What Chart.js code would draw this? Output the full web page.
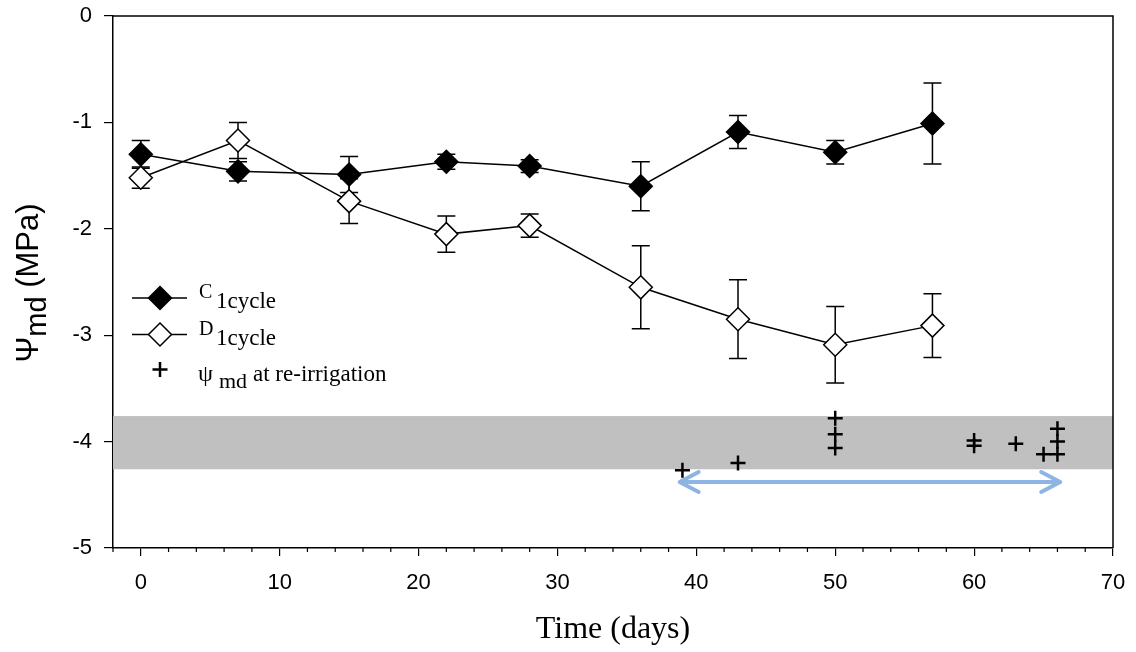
<!DOCTYPE html>
<html>
<head>
<meta charset="utf-8">
<script src="https://cdn.jsdelivr.net/npm/chart.js@4.4.0/dist/chart.umd.min.js"></script>
<style>
  html, body { margin: 0; padding: 0; background: #ffffff; }
  #myChart { display: block; }
</style>
</head>
<body>
<canvas id="myChart" width="1136" height="652"></canvas>
<script>
// sampling days and mean midday water potential (MPa) with error bars
const days = [0, 7, 15, 22, 28, 36, 43, 50, 57];
const controlMean = [-1.30, -1.46, -1.49, -1.37, -1.41, -1.60, -1.09, -1.28, -1.01];
const controlErr = [0.13, 0.09, 0.17, 0.07, 0.06, 0.23, 0.155, 0.11, 0.38];
const droughtMean = [-1.52, -1.17, -1.74, -2.05, -1.97, -2.55, -2.85, -3.09, -2.91];
const droughtErr = [0.10, 0.17, 0.21, 0.17, 0.11, 0.39, 0.37, 0.36, 0.30];

// psi_md at re-irrigation
const reirrDays = [39, 43, 50, 50, 50, 60, 60, 63, 65, 66, 66, 66];
const reirrPsi = [-4.27, -4.20, -3.78, -3.93, -4.06, -3.99, -4.04, -4.02, -4.12, -3.88, -4.00, -4.12];

// grey band and the re-irrigation period arrow
const bandRange = [-4.26, -3.76];
const arrowDays = [38.8, 66.2];
const arrowPsi = -4.38;

const xTicks = [0, 10, 20, 30, 40, 50, 60, 70];
const yTicks = [0, -1, -2, -3, -4, -5];

const canvas = document.getElementById('myChart');
const context = canvas.getContext('2d');
const black = '#000000';
const bandColor = '#c0c0c0';
const arrowColor = '#8db4e3';
const serif = '"Liberation Serif", "Times New Roman", serif';
const sans = '"Liberation Sans", Arial, sans-serif';

function toPoints(xs, ys) {
    return xs.map(function(x, i) { return { x: x, y: ys[i] }; });
}

function diamond(ctx, x, y, r, fill) {
    ctx.beginPath();
    ctx.moveTo(x, y - r);
    ctx.lineTo(x + r, y);
    ctx.lineTo(x, y + r);
    ctx.lineTo(x - r, y);
    ctx.closePath();
    ctx.fillStyle = fill;
    ctx.fill();
    ctx.lineWidth = 1.5;
    ctx.strokeStyle = black;
    ctx.stroke();
}

function plus(ctx, x, y, r) {
    ctx.beginPath();
    ctx.moveTo(x - r, y);
    ctx.lineTo(x + r, y);
    ctx.moveTo(x, y - r);
    ctx.lineTo(x, y + r);
    ctx.lineWidth = 2.5;
    ctx.strokeStyle = black;
    ctx.stroke();
}

const decorations = {
    id: 'decorations',
    beforeDatasetsDraw(chart) {
        const ctx = chart.ctx;
        const area = chart.chartArea;
        const x = chart.scales.x;
        const y = chart.scales.y;
        ctx.save();

        // grey band
        const bandTop = y.getPixelForValue(bandRange[1]);
        const bandBottom = y.getPixelForValue(bandRange[0]);
        ctx.fillStyle = bandColor;
        ctx.fillRect(area.left, bandTop, area.right - area.left, bandBottom - bandTop);

        // double arrow
        const ax0 = x.getPixelForValue(arrowDays[0]);
        const ax1 = x.getPixelForValue(arrowDays[1]);
        const ay = y.getPixelForValue(arrowPsi);
        ctx.strokeStyle = arrowColor;
        ctx.lineWidth = 4;
        ctx.lineCap = 'round';
        ctx.lineJoin = 'round';
        ctx.beginPath();
        ctx.moveTo(ax0 + 1, ay);
        ctx.lineTo(ax1 - 1, ay);
        ctx.moveTo(ax0 + 19, ay - 10);
        ctx.lineTo(ax0, ay);
        ctx.lineTo(ax0 + 19, ay + 10);
        ctx.moveTo(ax1 - 19, ay - 10);
        ctx.lineTo(ax1, ay);
        ctx.lineTo(ax1 - 19, ay + 10);
        ctx.stroke();

        // error bars
        ctx.strokeStyle = black;
        ctx.lineWidth = 1.5;
        ctx.lineCap = 'butt';
        [[controlMean, controlErr], [droughtMean, droughtErr]].forEach(function(pair) {
            days.forEach(function(d, i) {
                const px = x.getPixelForValue(d);
                const top = y.getPixelForValue(pair[0][i] + pair[1][i]);
                const bottom = y.getPixelForValue(pair[0][i] - pair[1][i]);
                ctx.beginPath();
                ctx.moveTo(px, top);
                ctx.lineTo(px, bottom);
                ctx.moveTo(px - 9, top);
                ctx.lineTo(px + 9, top);
                ctx.moveTo(px - 9, bottom);
                ctx.lineTo(px + 9, bottom);
                ctx.stroke();
            });
        });
        ctx.restore();
    },
    afterDraw(chart) {
        const ctx = chart.ctx;
        const area = chart.chartArea;
        const x = chart.scales.x;
        ctx.save();

        // top and right frame
        ctx.strokeStyle = black;
        ctx.lineWidth = 1.5;
        ctx.beginPath();
        ctx.moveTo(area.left, area.top);
        ctx.lineTo(area.right, area.top);
        ctx.lineTo(area.right, area.bottom);
        ctx.stroke();

        // minor ticks every 2 days
        ctx.lineWidth = 1.2;
        ctx.beginPath();
        for (let d = -2; d <= 70; d += 2) {
            if (d % 10 === 0) continue;
            const px = x.getPixelForValue(d);
            ctx.moveTo(px, area.bottom);
            ctx.lineTo(px, area.bottom + 4);
        }
        ctx.stroke();

        // legend
        ctx.lineWidth = 1.5;
        ctx.beginPath();
        ctx.moveTo(132, 298); ctx.lineTo(187, 298);
        ctx.moveTo(132, 334.5); ctx.lineTo(187, 334.5);
        ctx.stroke();
        diamond(ctx, 160, 298, 11.5, black);
        diamond(ctx, 160, 334.5, 11.5, '#ffffff');
        plus(ctx, 160, 369.5, 7.5);

        ctx.fillStyle = black;
        ctx.textAlign = 'left';
        ctx.textBaseline = 'alphabetic';
        ctx.font = '20px ' + serif;
        ctx.fillText('C', 199, 298);
        ctx.fillText('D', 199, 335);
        ctx.font = '23px ' + serif;
        ctx.fillText('1cycle', 216, 308);
        ctx.fillText('1cycle', 216, 345);
        ctx.font = '24px ' + serif;
        ctx.fillText('\u03C8', 198, 381);
        ctx.font = '22px ' + serif;
        ctx.fillText('md', 219, 388);
        ctx.font = '23px ' + serif;
        ctx.fillText('at re-irrigation', 253, 381);

        // x axis title
        ctx.textAlign = 'center';
        ctx.font = '32px ' + serif;
        ctx.fillText('Time (days)', 613, 638);

        // y axis title
        ctx.translate(38, 283);
        ctx.rotate(-Math.PI / 2);
        const mainFont = '31px ' + sans;
        const subFont = '29px ' + sans;
        ctx.font = mainFont;
        const wPsi = ctx.measureText('\u03A8').width;
        const wUnit = ctx.measureText(' (MPa)').width;
        ctx.font = subFont;
        const wSub = ctx.measureText('md').width;
        let start = -(wPsi + wSub + wUnit) / 2;
        ctx.textAlign = 'left';
        ctx.font = mainFont;
        ctx.fillText('\u03A8', start, 0);
        ctx.font = subFont;
        ctx.fillText('md', start + wPsi, 8);
        ctx.font = mainFont;
        ctx.fillText(' (MPa)', start + wPsi + wSub, 0);
        ctx.restore();
    }
};

new Chart(context, {
    type: 'line',
    data: {
        datasets: [{
            label: 'C1cycle',
            data: toPoints(days, controlMean),
            borderColor: black,
            borderWidth: 1.5,
            pointStyle: 'rectRot',
            pointRadius: 11.5,
            pointBorderWidth: 1.5,
            pointBackgroundColor: black,
            pointBorderColor: black,
            tension: 0
        }, {
            label: 'D1cycle',
            data: toPoints(days, droughtMean),
            borderColor: black,
            borderWidth: 1.5,
            pointStyle: 'rectRot',
            pointRadius: 11.5,
            pointBorderWidth: 1.5,
            pointBackgroundColor: '#ffffff',
            pointBorderColor: black,
            tension: 0
        }, {
            type: 'scatter',
            label: 'psi md at re-irrigation',
            data: toPoints(reirrDays, reirrPsi),
            showLine: false,
            pointStyle: 'cross',
            pointRadius: 7.5,
            pointBorderWidth: 2.5,
            pointBorderColor: black,
            borderColor: black
        }]
    },
    options: {
        responsive: false,
        animation: false,
        events: [],
        layout: {
            padding: { top: 16, right: 23, left: 0, bottom: 0 }
        },
        plugins: {
            legend: { display: false },
            tooltip: { enabled: false }
        },
        scales: {
            x: {
                type: 'linear',
                min: -2,
                max: 70,
                afterBuildTicks: function(scale) {
                    scale.ticks = xTicks.map(function(v) { return { value: v }; });
                },
                afterFit: function(scale) {
                    scale.height = 104;
                    scale.paddingLeft = 0;
                    scale.paddingRight = 0;
                },
                grid: {
                    drawOnChartArea: false,
                    drawTicks: true,
                    tickLength: 8,
                    color: black,
                    lineWidth: 1.2
                },
                border: { display: true, color: black, width: 1.5 },
                ticks: {
                    color: black,
                    font: { family: sans, size: 22 },
                    padding: 14,
                    maxRotation: 0,
                    autoSkip: false
                }
            },
            y: {
                type: 'linear',
                min: -5,
                max: 0,
                afterBuildTicks: function(scale) {
                    scale.ticks = yTicks.map(function(v) { return { value: v }; });
                },
                afterFit: function(scale) {
                    scale.width = 113;
                    scale.paddingTop = 0;
                    scale.paddingBottom = 0;
                },
                grid: {
                    drawOnChartArea: false,
                    drawTicks: true,
                    tickLength: 9,
                    color: black,
                    lineWidth: 1.2
                },
                border: { display: true, color: black, width: 1.5 },
                ticks: {
                    color: black,
                    font: { family: sans, size: 22 },
                    padding: 12,
                    autoSkip: false
                }
            }
        }
    },
    plugins: [decorations]
});
</script>
</body>
</html>
